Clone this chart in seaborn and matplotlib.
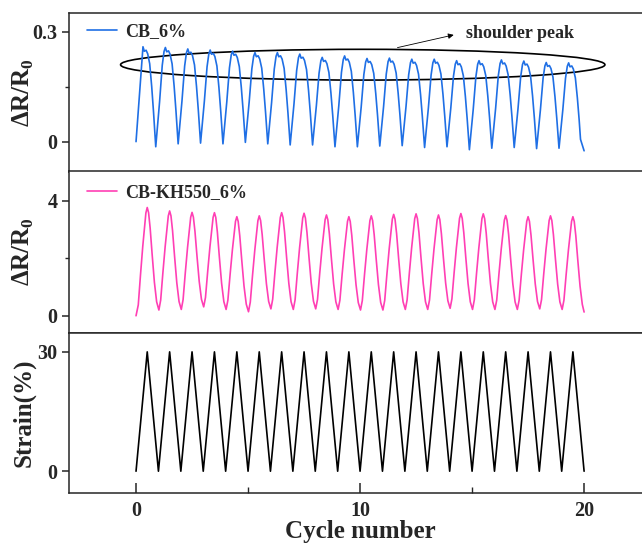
import numpy as np
import pandas as pd
import matplotlib
matplotlib.use("Agg")
import matplotlib.pyplot as plt
import seaborn as sns
from matplotlib.patches import Ellipse
from matplotlib.ticker import FixedLocator

# ---------------- data ----------------
cycles = list(range(20))                     # cycle index n (0..19)
cycle_end = 20.0

# CB_6% : peak value of each cycle and valley value after each cycle
cb_peaks = [0.259, 0.257, 0.253, 0.250, 0.247, 0.243, 0.243, 0.239, 0.230, 0.234,
            0.227, 0.228, 0.225, 0.225, 0.221, 0.221, 0.223, 0.220, 0.216, 0.215]
cb_valleys = [-0.014, -0.006, -0.004, -0.006, -0.002, -0.006, -0.009, -0.009, -0.014, -0.014,
              -0.012, -0.011, -0.016, -0.014, -0.022, -0.018, -0.016, -0.019, -0.018, -0.025]
# one-cycle profile of CB_6% (phase within cycle, fraction of peak height)
cb_phase = [0.05, 0.17, 0.25, 0.31, 0.37, 0.45, 0.52, 0.61, 0.70, 0.78, 0.84]
cb_frac = [0.45, 0.82, 0.96, 1.00, 0.955, 0.965, 0.93, 0.83, 0.60, 0.35, 0.13]
cb_valley_phase = 0.88

# CB-KH550_6%
kh_peaks = [3.77, 3.65, 3.60, 3.59, 3.45, 3.48, 3.59, 3.57, 3.51, 3.45,
            3.48, 3.53, 3.55, 3.51, 3.56, 3.55, 3.49, 3.45, 3.48, 3.45]
kh_valleys = [0.20, 0.22, 0.31, 0.22, 0.14, 0.24, 0.22, 0.24, 0.22, 0.20,
              0.20, 0.22, 0.22, 0.26, 0.22, 0.22, 0.22, 0.24, 0.22, 0.13]
kh_phase = [0.10, 0.20, 0.30, 0.38, 0.44, 0.50, 0.56, 0.63, 0.72, 0.82, 0.92]
kh_frac = [0.10, 0.38, 0.64, 0.82, 0.95, 1.00, 0.95, 0.80, 0.54, 0.27, 0.08]
kh_valley_phase = 1.02

# Strain
strain_max = 30
strain_min = 0

# ---------------- build series ----------------
def build(peaks, valleys, phase, frac, vphase, skip_first):
    xs, ys = [0.0], [0.0]
    prev_v = 0.0
    for n in cycles:
        P = peaks[n]
        nxt = valleys[n]
        pk = frac.index(1.00)
        for i, (ph, f) in enumerate(zip(phase, frac)):
            if n == 0 and i < skip_first:
                continue
            base = prev_v if i < pk else nxt
            xs.append(n + ph)
            ys.append(base + f * (P - base))
        xv = n + vphase if n < len(cycles) - 1 else cycle_end
        xs.append(min(xv, cycle_end))
        ys.append(nxt)
        prev_v = nxt
    return pd.DataFrame({"x": xs, "y": ys})

cb_df = build(cb_peaks, cb_valleys, cb_phase, cb_frac, cb_valley_phase, 3)
kh_df = build(kh_peaks, kh_valleys, kh_phase, kh_frac, kh_valley_phase, 0)

sx, sy = [], []
for n in cycles:
    sx += [n, n + 0.5]
    sy += [strain_min, strain_max]
sx.append(cycle_end)
sy.append(strain_min)
st_df = pd.DataFrame({"x": sx, "y": sy})

# ---------------- style ----------------
sns.set_theme(style="ticks")
plt.rcParams["font.family"] = ["Liberation Serif", "DejaVu Serif"]
plt.rcParams["font.weight"] = "bold"
plt.rcParams["axes.labelweight"] = "bold"
plt.rcParams["mathtext.fontset"] = "custom"
plt.rcParams["mathtext.rm"] = "Liberation Serif:bold"
plt.rcParams["mathtext.bf"] = "Liberation Serif:bold"
plt.rcParams["axes.linewidth"] = 1.1

fig = plt.figure(figsize=(6.42, 5.44), dpi=100)
W = 0.9073
L = 0.1072
ax1 = fig.add_axes([L, 0.6844, W, 0.2923])
ax2 = fig.add_axes([L, 0.3884, W, 0.2972])
ax3 = fig.add_axes([L, 0.0943, W, 0.2940])

blue = "#1f6fe5"
pink = "#ff3fb4"

sns.lineplot(data=cb_df, x="x", y="y", ax=ax1, color=blue, lw=1.2, sort=False,
             estimator=None, label="CB_6%")
sns.lineplot(data=kh_df, x="x", y="y", ax=ax2, color=pink, lw=1.2, sort=False,
             estimator=None, label="CB-KH550_6%")
sns.lineplot(data=st_df, x="x", y="y", ax=ax3, color="black", lw=1.2, sort=False,
             estimator=None)

for ax in (ax1, ax2, ax3):
    ax.set_xlim(-3, 23)
    ax.set_xlabel("")
    ax.yaxis.set_label_coords(-0.057, 0.5)
    ax.tick_params(axis="y", direction="out", length=5, width=1.1, labelsize=14.5, pad=3)
    ax.tick_params(axis="y", which="minor", direction="out", length=3, width=1.0)

ax1.set_ylim(-0.082, 0.352)
ax1.yaxis.set_major_locator(FixedLocator([0, 0.3]))
ax1.yaxis.set_minor_locator(FixedLocator([0.15]))
ax1.set_yticklabels(["0", "0.3"], fontweight="bold")
ax1.set_ylabel("ΔR/R$_{0}$", fontsize=18, fontweight="bold")

ax2.set_ylim(-0.59, 5.04)
ax2.yaxis.set_major_locator(FixedLocator([0, 4]))
ax2.yaxis.set_minor_locator(FixedLocator([2]))
ax2.set_yticklabels(["0", "4"], fontweight="bold")
ax2.set_ylabel("ΔR/R$_{0}$", fontsize=18, fontweight="bold")

ax3.set_ylim(-5.4, 34.8)
ax3.yaxis.set_major_locator(FixedLocator([0, 30]))
ax3.set_yticklabels(["0", "30"], fontweight="bold")
ax3.set_ylabel("Strain(%)", fontsize=18, fontweight="bold")

for ax in (ax1, ax2):
    ax.tick_params(axis="x", which="both", bottom=False, labelbottom=False)

ax3.xaxis.set_major_locator(FixedLocator([0, 10, 20]))
ax3.xaxis.set_minor_locator(FixedLocator([5, 15]))
ax3.tick_params(axis="x", which="major", direction="in", length=7, width=1.1,
                labelsize=14.5, pad=6)
ax3.tick_params(axis="x", which="minor", direction="in", length=4, width=1.0)
ax3.set_xticklabels(["0", "10", "20"], fontweight="bold")
ax3.set_xlabel("Cycle number", fontsize=18, fontweight="bold", labelpad=-1)

for ax, yy in ((ax1, 0.879), (ax2, 0.864)):
    ax.legend(loc="center left", bbox_to_anchor=(0.031, yy), frameon=False,
              borderpad=0, borderaxespad=0, handlelength=1.65, handletextpad=0.45,
              prop={"family": "Liberation Serif", "weight": "bold", "size": 13})

# annotation on top panel
ell = Ellipse((10.12, 0.21), 21.62, 0.084, fill=False, edgecolor="black", lw=1.2)
ax1.add_patch(ell)
ax1.annotate("", xy=(14.3, 0.293), xytext=(11.55, 0.255),
             arrowprops=dict(arrowstyle="-|>", lw=0.6, color="black", mutation_scale=8))
ax1.text(14.75, 0.294, "shoulder peak", fontsize=13, fontweight="bold",
         ha="left", va="center")

fig.savefig("out.png", dpi=100)
